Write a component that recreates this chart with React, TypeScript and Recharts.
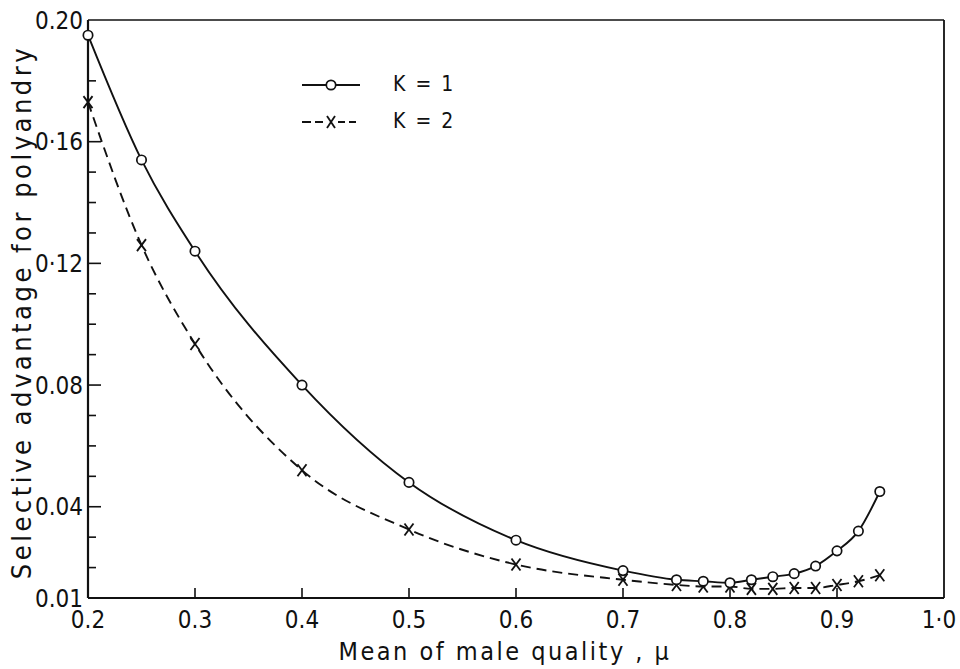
import React from 'react';
import { LineChart, Line, XAxis, YAxis, ReferenceLine } from 'recharts';

// mean of male quality (x) and selective advantage
const mu = [0.2, 0.25, 0.3, 0.4, 0.5, 0.6, 0.7, 0.75, 0.775, 0.8, 0.82, 0.84, 0.86, 0.88, 0.9, 0.92, 0.94];
const k1 = [0.195, 0.154, 0.124, 0.08, 0.048, 0.029, 0.019, 0.016, 0.0155, 0.015, 0.016, 0.017, 0.018, 0.0205, 0.0255, 0.032, 0.045];
const k2 = [0.173, 0.126, 0.0935, 0.052, 0.0325, 0.021, 0.016, 0.0143, 0.0138, 0.0138, 0.013, 0.013, 0.0133, 0.0133, 0.0143, 0.0155, 0.0175];

const xTicks = [0.2, 0.3, 0.4, 0.5, 0.6, 0.7, 0.8, 0.9, 1.0];
const xTickLabels = ['0.2', '0.3', '0.4', '0.5', '0.6', '0.7', '0.8', '0.9', '1·0'];
const yMajor = [0.01, 0.04, 0.08, 0.12, 0.16, 0.2];
const yMajorLabels = ['0.01', '0.04', '0.08', '0·12', '0·16', '0.20'];
const yMinor = [0.02, 0.03, 0.05, 0.06, 0.07, 0.09, 0.1, 0.11, 0.13, 0.14, 0.15, 0.18];

const data = mu.map((m, i) => ({ mu: m, k1: k1[i], k2: k2[i] }));

const FONT = "'Liberation Sans Narrow', 'DejaVu Sans Condensed', 'DejaVu Sans', sans-serif";
const INK = '#111';

const near = (a: number, b: number) => Math.abs(a - b) < 1e-6;

function YTick(props: any) {
  const { x, y, payload } = props;
  const idx = yMajor.findIndex((v) => near(v, payload.value));
  const major = idx >= 0;
  const edge = near(payload.value, 0.01) || near(payload.value, 0.2);
  return (
    <g>
      {!edge && <line x1={x} x2={x + (major ? 13 : 8)} y1={y} y2={y} stroke={INK} strokeWidth={1.6} />}
      {major && (
        <text x={x - 5} y={y} dy="0.36em" textAnchor="end" fontFamily={FONT} fontSize={24} fill={INK}>
          {yMajorLabels[idx]}
        </text>
      )}
    </g>
  );
}

function XTick(props: any) {
  const { x, y, payload } = props;
  const idx = xTicks.findIndex((v) => near(v, payload.value));
  const inner = idx > 0 && idx < xTicks.length - 1;
  const last = idx === xTicks.length - 1;
  return (
    <g>
      {inner && <line x1={x} x2={x} y1={y} y2={y - 10} stroke={INK} strokeWidth={1.6} />}
      <text x={last ? x - 5 : x} y={y + 30} textAnchor="middle" fontFamily={FONT} fontSize={24} fill={INK}>
        {xTickLabels[idx]}
      </text>
    </g>
  );
}

function YTitle(props: any) {
  const { viewBox } = props;
  const cy = viewBox.y + viewBox.height / 2 + 3;
  return (
    <text
      x={21}
      y={cy}
      transform={`rotate(-90 21 ${cy})`}
      dy="0.36em"
      textAnchor="middle"
      fontFamily={FONT}
      fontSize={27}
      letterSpacing={3.5}
      fill={INK}
    >
      Selective advantage for polyandry
    </text>
  );
}

function XTitle(props: any) {
  const { viewBox } = props;
  return (
    <text x={505} y={viewBox.y + 62} textAnchor="middle" fontFamily={FONT} fontSize={25} letterSpacing={2.5} fill={INK}>
      Mean of male quality , μ
    </text>
  );
}

function CircleDot(props: any) {
  const { cx, cy, index } = props;
  return <circle key={`c${index}`} cx={cx} cy={cy} r={4.7} fill="#fff" stroke={INK} strokeWidth={1.7} />;
}

function CrossDot(props: any) {
  const { cx, cy, index } = props;
  return (
    <g key={`x${index}`}>
      <line x1={cx - 4.5} y1={cy - 6} x2={cx + 4.5} y2={cy + 6} stroke={INK} strokeWidth={1.8} />
      <line x1={cx + 4.5} y1={cy - 6} x2={cx - 4.5} y2={cy + 6} stroke={INK} strokeWidth={1.8} />
    </g>
  );
}

export default function App() {
  return (
    <div style={{ position: 'absolute', left: 0, top: 0, width: 960, height: 669, background: '#fff' }}>
      <LineChart width={960} height={669} data={data} margin={{ top: 20, right: 16, bottom: 0, left: 0 }}>
        <XAxis
          dataKey="mu"
          type="number"
          domain={[0.2, 1.0]}
          ticks={xTicks}
          height={71}
          tickSize={0}
          tickMargin={0}
          tickLine={false}
          tick={<XTick />}
          axisLine={{ stroke: INK, strokeWidth: 2.2 }}
          label={<XTitle />}
        />
        <YAxis
          type="number"
          domain={[0.01, 0.2]}
          ticks={[...yMajor, ...yMinor].sort((a, b) => a - b)}
          width={88}
          tickSize={0}
          tickMargin={0}
          tickLine={false}
          tick={<YTick />}
          axisLine={{ stroke: INK, strokeWidth: 2.2 }}
          allowDataOverflow
          label={<YTitle />}
        />
        <ReferenceLine y={0.2} stroke={INK} strokeWidth={1.5} />
        <ReferenceLine x={1.0} stroke={INK} strokeWidth={1.8} />
        <Line
          type="monotone"
          dataKey="k2"
          stroke={INK}
          strokeWidth={1.9}
          strokeDasharray="10 6"
          dot={<CrossDot />}
          isAnimationActive={false}
        />
        <Line
          type="monotone"
          dataKey="k1"
          stroke={INK}
          strokeWidth={1.9}
          dot={<CircleDot />}
          isAnimationActive={false}
        />
      </LineChart>
      <div style={{ position: 'absolute', left: 300, top: 66, fontFamily: FONT, fontSize: 21, color: INK, lineHeight: '37px' }}>
        <div style={{ display: 'flex', alignItems: 'center' }}>
          <svg width={62} height={16}>
            <line x1={2} x2={60} y1={8} y2={8} stroke={INK} strokeWidth={1.8} />
            <circle cx={31} cy={8} r={4.7} fill="#fff" stroke={INK} strokeWidth={1.7} />
          </svg>
          <span style={{ marginLeft: 31, wordSpacing: 4 }}>K = 1</span>
        </div>
        <div style={{ display: 'flex', alignItems: 'center' }}>
          <svg width={62} height={16}>
            <line x1={2} x2={23} y1={8} y2={8} stroke={INK} strokeWidth={1.8} strokeDasharray="9 4" />
            <line x1={38} x2={60} y1={8} y2={8} stroke={INK} strokeWidth={1.8} strokeDasharray="7 4" />
            <line x1={27} y1={2} x2={35} y2={14} stroke={INK} strokeWidth={1.8} />
            <line x1={35} y1={2} x2={27} y2={14} stroke={INK} strokeWidth={1.8} />
          </svg>
          <span style={{ marginLeft: 31, wordSpacing: 4 }}>K = 2</span>
        </div>
      </div>
    </div>
  );
}
